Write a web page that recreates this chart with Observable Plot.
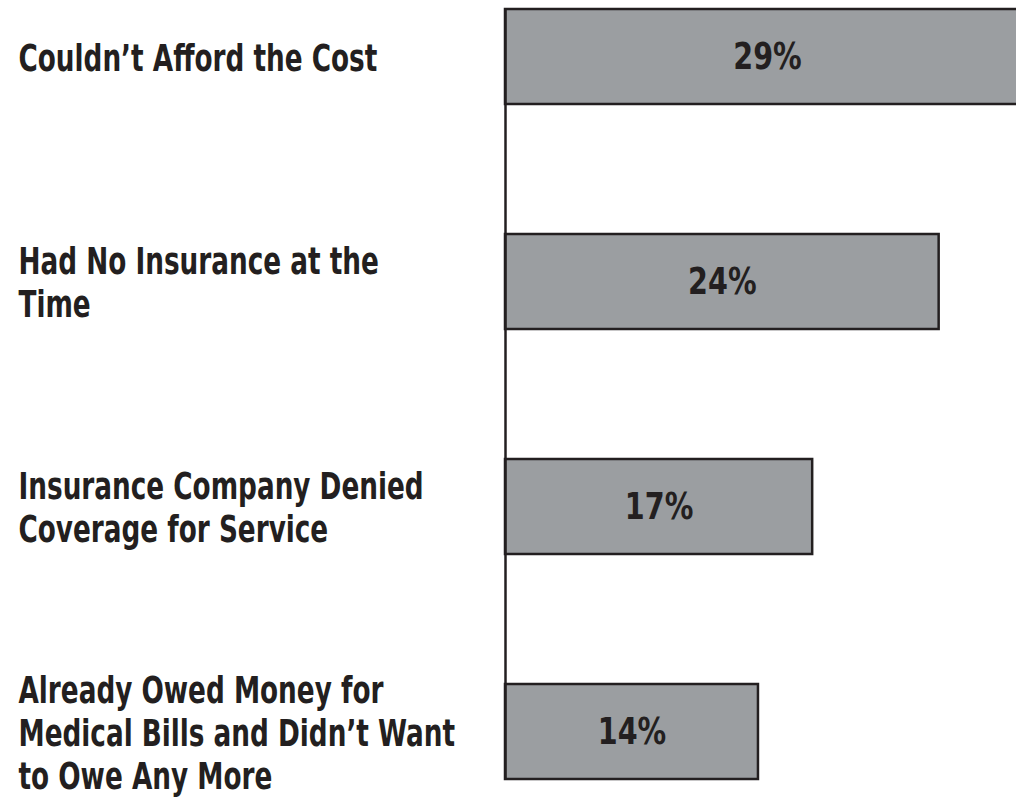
<!DOCTYPE html>
<html>
<head>
<meta charset="utf-8">
<script src="https://cdn.jsdelivr.net/npm/d3@7"></script>
<script src="https://cdn.jsdelivr.net/npm/@observablehq/plot@0.6"></script>
<style>
  html, body { margin: 0; padding: 0; background: #fff; overflow: hidden; }
  #chart svg { display: block; overflow: hidden; }
</style>
</head>
<body>
<div id="chart"></div>
<script>
const categories = [
  "Couldn\u2019t Afford the Cost",
  "Had No Insurance at the\nTime",
  "Insurance Company Denied\nCoverage for Service",
  "Already Owed Money for\nMedical Bills and Didn\u2019t Want\nto Owe Any More"
];
const values = [29, 24, 17, 14];
const valueLabels = ["29%", "24%", "17%", "14%"];

const data = categories.map((c, i) => ({category: c, value: values[i], label: valueLabels[i]}));

const ink = "#231f20";
const font = "'DejaVu Sans Condensed', 'DejaVu Sans', sans-serif";

const chart = Plot.plot({
  width: 1016,
  height: 804,
  marginTop: 8,
  marginBottom: 24,
  marginLeft: 505,
  marginRight: 0,
  style: {fontFamily: font, background: "#fff"},
  x: {domain: [0, 29], range: [505, 1029], axis: null},
  y: {domain: categories, paddingInner: 0.58, paddingOuter: 0, axis: null},
  marks: [
    Plot.barX(data, {x: "value", y: "category", fill: "#9b9ea1", stroke: ink, strokeWidth: 2.5}),
    Plot.ruleX([0], {stroke: ink, strokeWidth: 2.5}),
    Plot.text(data, {
      x: d => d.value / 2, y: "category", text: "label",
      fill: ink, fontSize: 37, fontWeight: "bold", textAnchor: "middle"
    }),
    Plot.text(data, {
      y: "category", text: "category", frameAnchor: "left", dx: -487,
      textAnchor: "start", fill: ink, fontSize: 37, fontWeight: "bold", lineHeight: 1.16
    })
  ]
});

// Condense glyphs horizontally to mimic a condensed bold typeface
function squeeze(group, sx) {
  if (!group) return;
  group.querySelectorAll(":scope > text").forEach(t => {
    const tr = t.getAttribute("transform") || "";
    t.setAttribute("transform", (tr + ` scale(${sx},1)`).trim());
  });
}
const textGroups = chart.querySelectorAll('g[aria-label="text"]');
squeeze(textGroups[0], 0.86);
squeeze(textGroups[1], 0.79);

document.getElementById("chart").appendChild(chart);
</script>
</body>
</html>
